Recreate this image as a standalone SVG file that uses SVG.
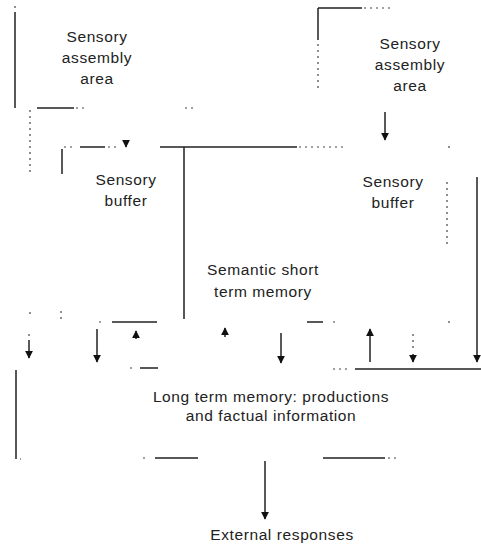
<svg xmlns="http://www.w3.org/2000/svg" width="481" height="546" viewBox="0 0 481 546">
<style>
text{font-family:"Liberation Sans",Arial,sans-serif;font-size:15.5px;letter-spacing:0.6px;fill:#222;text-anchor:middle}
.l{stroke:#222;stroke-width:1.5;fill:none}
.d{stroke:#444;stroke-width:1.2;fill:none;stroke-dasharray:2 4}
.h{fill:#111}
</style>
<defs>
<marker id="ah" viewBox="0 0 10 10" refX="9" refY="5" markerWidth="8" markerHeight="8" markerUnits="userSpaceOnUse" orient="auto"><path d="M0,0L10,5L0,10z" fill="#111"/></marker>
</defs>
<g id="sensory-assembly-left">
<path class="l" d="M15,12V108M37,108H74"/>
<path class="d" d="M15,6V8M76,108H86M185,108H196"/>
<text x="97" y="42">Sensory</text>
<text x="97" y="63">assembly</text>
<text x="97" y="84">area</text>
</g>
<g id="sensory-assembly-right">
<path class="l" d="M318,8V40M318,8H362"/>
<path class="d" d="M364,8H390M318,44V92"/>
<text x="410" y="49">Sensory</text>
<text x="410" y="70">assembly</text>
<text x="410" y="91">area</text>
</g>
<g id="sensory-buffer-left">
<path class="l" d="M62,149V174M80,147H105"/>
<path class="d" d="M30,110V175M64,147H76M108,147H117M30,312V315M61,311V322M99,322H101"/>
<path class="l" d="M112,322H157"/>
<text x="126" y="185">Sensory</text>
<text x="126" y="206">buffer</text>
</g>
<g id="sensory-buffer-right">
<path class="d" d="M447,182V244M449,146V148"/>
<text x="393" y="187">Sensory</text>
<text x="393" y="208">buffer</text>
</g>
<g id="semantic-stm">
<path class="l" d="M160,147H297M184,147V319M307,322H323"/>
<path class="d" d="M299,147H344M333,322H335M449,321V323"/>
<text x="263" y="275">Semantic short</text>
<text x="263" y="297">term memory</text>
</g>
<g id="long-term-memory">
<path class="l" d="M140,368H158M355,369H481M16,370V459M155,458H198M323,458H385"/>
<path class="d" d="M130,368H132M333,369H350M143,458H145M388,458H396M20,459H21"/>
<text x="271" y="402">Long term memory: productions</text>
<text x="271" y="421">and factual information</text>
</g>
<g id="external-responses">
<text x="282" y="540">External responses</text>
</g>
<g id="connectors">
<path class="l" d="M126,140V147" marker-end="url(#ah)"/>
<path class="l" d="M385,112V140" marker-end="url(#ah)"/>
<path class="l" d="M477,177V362" marker-end="url(#ah)"/>
<path class="l" d="M29,340V358" marker-end="url(#ah)"/>
<path class="d" d="M29,334V336"/>
<path class="l" d="M97,329V362" marker-end="url(#ah)"/>
<path class="l" d="M136,339V331" marker-end="url(#ah)"/>
<path class="l" d="M225,337V328" marker-end="url(#ah)"/>
<path class="l" d="M281,333V363" marker-end="url(#ah)"/>
<path class="l" d="M370,362V329" marker-end="url(#ah)"/>
<path class="d" d="M413,334V348"/>
<path class="l" d="M413,354V362" marker-end="url(#ah)"/>
<path class="l" d="M265,461V519" marker-end="url(#ah)"/>
</g>
</svg>
